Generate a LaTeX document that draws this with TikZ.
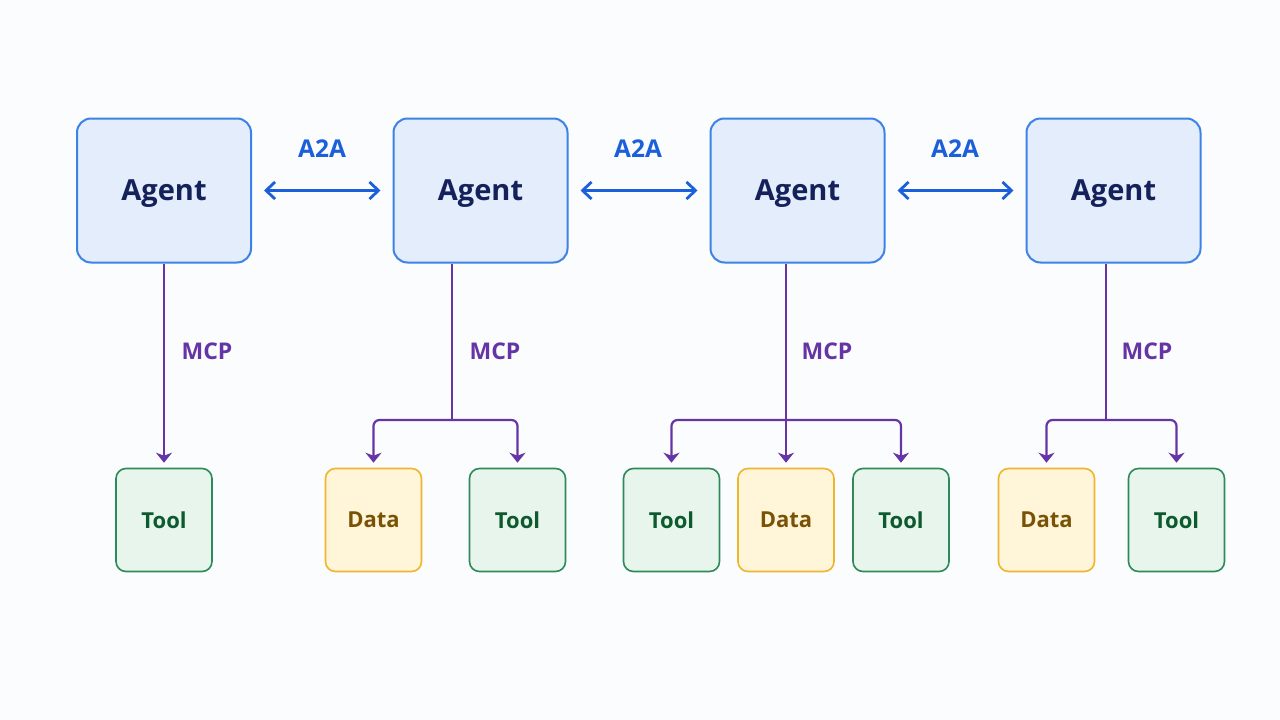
\documentclass[tikz,border=0pt]{standalone}
\usepackage{fontspec}
\setmainfont{Open Sans}
\usetikzlibrary{arrows.meta}
\definecolor{bg}{HTML}{FBFCFD}
\definecolor{agfill}{HTML}{E3EDFB}
\definecolor{agdraw}{HTML}{3D82E6}
\definecolor{agtext}{HTML}{15215A}
\definecolor{a2a}{HTML}{1C5FDA}
\definecolor{mcp}{HTML}{6535A6}
\definecolor{toolfill}{HTML}{E8F5EC}
\definecolor{tooldraw}{HTML}{2E8A5A}
\definecolor{tooltext}{HTML}{0C5A2E}
\definecolor{datafill}{HTML}{FFF5D8}
\definecolor{datadraw}{HTML}{EFB52C}
\definecolor{datatext}{HTML}{7A5206}
\tikzset{
  agent/.style={draw=agdraw, fill=agfill, line width=2pt, rounded corners=14pt,
    minimum width=174pt, minimum height=144pt, text=agtext, text depth=0pt,
    font=\fontsize{29}{33}\selectfont\bfseries},
  toolbox/.style={draw=tooldraw, fill=toolfill, line width=1.6pt, rounded corners=10pt,
    minimum width=96pt, minimum height=103pt, text=tooltext, text depth=0pt,
    font=\fontsize{22}{26}\selectfont\bfseries},
  databox/.style={toolbox, draw=datadraw, fill=datafill, text=datatext},
  a2aarrow/.style={draw=a2a, line width=2.8pt, shorten <=12pt, shorten >=12pt,
    {Straight Barb[length=9pt,width=17pt,line width=2.8pt]}-{Straight Barb[length=9pt,width=17pt,line width=2.8pt]}},
  a2alabel/.style={text=a2a, font=\fontsize{24.5}{28}\selectfont\bfseries},
  mcpline/.style={draw=mcp, line width=2.2pt, rounded corners=6pt},
  mcparrow/.style={mcpline, -{Stealth[length=10pt,width=16pt,inset=3pt]}, shorten >=5pt},
  mcplabel/.style={text=mcp, font=\fontsize{23}{27}\selectfont\bfseries},
}
\begin{document}
\begin{tikzpicture}[x=1pt,y=-1pt]
\fill[bg] (0,0) rectangle (1280,720);
\useasboundingbox (0,0) rectangle (1280,720);
% agents
\node[agent] (a1) at (164,190.5) {Agent};
\node[agent] (a2) at (480.5,190.5) {Agent};
\node[agent] (a3) at (797.5,190.5) {Agent};
\node[agent] (a4) at (1113.5,190.5) {Agent};
% bottom boxes
\node[toolbox] (t1) at (164,520) {Tool};
\node[databox] (d2) at (373.5,520) {Data};
\node[toolbox] (t2) at (517.5,520) {Tool};
\node[toolbox] (t3a) at (671.5,520) {Tool};
\node[databox] (d3) at (786,520) {Data};
\node[toolbox] (t3b) at (901,520) {Tool};
\node[databox] (d4) at (1046.5,520) {Data};
\node[toolbox] (t4) at (1176.5,520) {Tool};
% A2A
\draw[a2aarrow] (a1.east) -- (a2.west);
\draw[a2aarrow] (a2.east) -- (a3.west);
\draw[a2aarrow] (a3.east) -- (a4.west);
\node[a2alabel] (l1) at (322,149) {A2A};
\node[a2alabel] (l2) at (638,149) {A2A};
\node[a2alabel] (l3) at (955,149) {A2A};
% MCP
\coordinate (j2) at (452,420);
\coordinate (j3) at (786,420);
\coordinate (j4) at (1106,420);
\draw[mcparrow] (a1.south) -- (t1.north);
\draw[mcpline] (a2.south -| j2) -- (j2);
\draw[mcparrow] (j2) -| (d2.north);
\draw[mcparrow] (j2) -| (t2.north);
\draw[mcparrow] (a3.south -| d3) -- (d3.north);
\draw[mcparrow] (j3) -| (t3a.north);
\draw[mcparrow] (j3) -| (t3b.north);
\draw[mcpline] (a4.south -| j4) -- (j4);
\draw[mcparrow] (j4) -| (d4.north);
\draw[mcparrow] (j4) -| (t4.north);
\node[mcplabel] (m1) at (207,351) {MCP};
\node[mcplabel] (m2) at (495,351) {MCP};
\node[mcplabel] (m3) at (827,351) {MCP};
\node[mcplabel] (m4) at (1147,351) {MCP};
\end{tikzpicture}
\end{document}
